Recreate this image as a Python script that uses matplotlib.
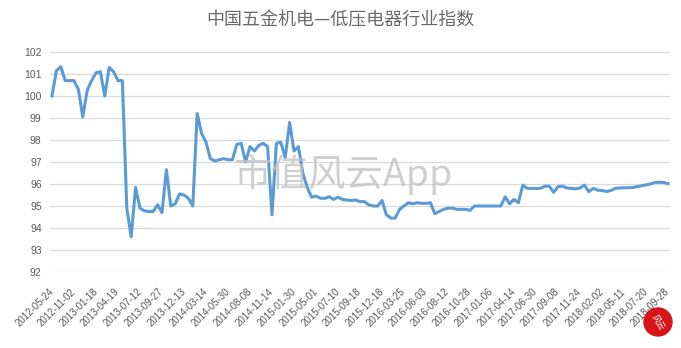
import matplotlib
matplotlib.use("Agg")
import matplotlib.pyplot as plt
from matplotlib.patches import Ellipse

plt.rcParams['font.family'] = ['Liberation Sans', 'Noto Sans CJK SC', 'DejaVu Sans']

title = "中国五金机电—低压电器行业指数"

tick_labels = ["2012-05-24", "2012-11-02", "2013-01-18", "2013-04-19", "2013-07-12",
               "2013-09-27", "2013-12-13", "2014-03-14", "2014-05-30", "2014-08-08",
               "2014-11-14", "2015-01-30", "2015-05-01", "2015-07-10", "2015-09-18",
               "2015-12-18", "2016-03-25", "2016-06-03", "2016-08-12", "2016-10-28",
               "2017-01-06", "2017-04-14", "2017-06-30", "2017-09-08", "2017-11-24",
               "2018-02-02", "2018-05-11", "2018-07-20", "2018-09-28"]

index_values = [
    100.0, 101.15, 101.33, 100.7, 100.7, 100.7, 100.3, 99.05, 100.25, 100.7,
    101.05, 101.1, 100.0, 101.3, 101.1, 100.7, 100.7, 94.9, 93.6, 95.85,
    94.9, 94.78, 94.75, 94.75, 95.05, 94.7, 96.65, 95.0, 95.1, 95.55,
    95.5, 95.35, 95.0, 99.2, 98.3, 97.9, 97.15, 97.05, 97.1, 97.15,
    97.1, 97.1, 97.8, 97.85, 97.0, 97.7, 97.5, 97.75, 97.85, 97.7,
    94.6, 97.85, 97.9, 97.2, 98.8, 97.5, 97.7, 96.5, 95.85, 95.4,
    95.45, 95.35, 95.35, 95.42, 95.3, 95.4, 95.3, 95.27, 95.25, 95.27,
    95.2, 95.2, 95.05, 95.0, 95.0, 95.25, 94.6, 94.45, 94.45, 94.85,
    95.0, 95.15, 95.1, 95.15, 95.12, 95.12, 95.15, 94.65, 94.75, 94.85,
    94.9, 94.9, 94.85, 94.85, 94.85, 94.8, 95.0, 95.0, 95.0, 95.0,
    95.0, 95.0, 95.0, 95.42, 95.1, 95.3, 95.15, 95.95, 95.8, 95.8,
    95.8, 95.8, 95.9, 95.9, 95.62, 95.88, 95.9, 95.82, 95.8, 95.78,
    95.82, 95.95, 95.65, 95.8, 95.72, 95.7, 95.66, 95.7, 95.8, 95.82,
    95.83, 95.83, 95.84, 95.88, 95.92, 95.96, 96.0, 96.07, 96.08, 96.07,
    96.02,
]

label_step = 5
y_ticks = list(range(92, 103))

W, H = 681, 348
fig = plt.figure(figsize=(W / 100, H / 100), dpi=100)
ax = fig.add_axes([50 / W, 1 - 272 / H, 620 / W, 220 / H])

x = list(range(len(index_values)))
ax.plot(x, index_values, color='#5B9BD5', linewidth=2.2, solid_joinstyle='round', zorder=3)

ax.set_ylim(92, 102)
ax.set_yticks(y_ticks)
ax.set_xlim(-0.45, len(index_values) - 1 + 0.45)
ax.set_xticks(x[::label_step])
ax.set_xticklabels(tick_labels, rotation=45, ha='right', va='center',
                   rotation_mode='anchor', fontsize=7, color='#595959')
ax.tick_params(axis='x', length=0, pad=13)
ax.tick_params(axis='y', length=0, pad=6, labelsize=7.5, labelcolor='#595959')
ax.grid(axis='y', color='#d9d9d9', linewidth=0.9, zorder=0)
for s in ax.spines.values():
    s.set_visible(False)

fig.text(0.5, 1 - 20 / H, title, ha='center', va='center', fontsize=13,
         color='#6a6a6a', family=['Noto Sans CJK SC', 'DejaVu Sans'])

fig.text(343 / W, 1 - 175 / H, "市值风云App", ha='center', va='center', fontsize=27,
         color='#c4c4c4', alpha=0.8, family=['Noto Sans CJK SC', 'DejaVu Sans'], zorder=5)

logo = Ellipse((658 / W, 1 - 322 / H), 28 / W, 28 / H, transform=fig.transFigure,
               color='#d7141a', zorder=10)
fig.patches.append(logo)
fig.text(658 / W, 1 - 322 / H, "风云", ha='center', va='center', fontsize=6,
         color='white', family=['Noto Sans CJK SC', 'DejaVu Sans'], zorder=11, rotation=-60)

fig.savefig("out.png", dpi=100)
